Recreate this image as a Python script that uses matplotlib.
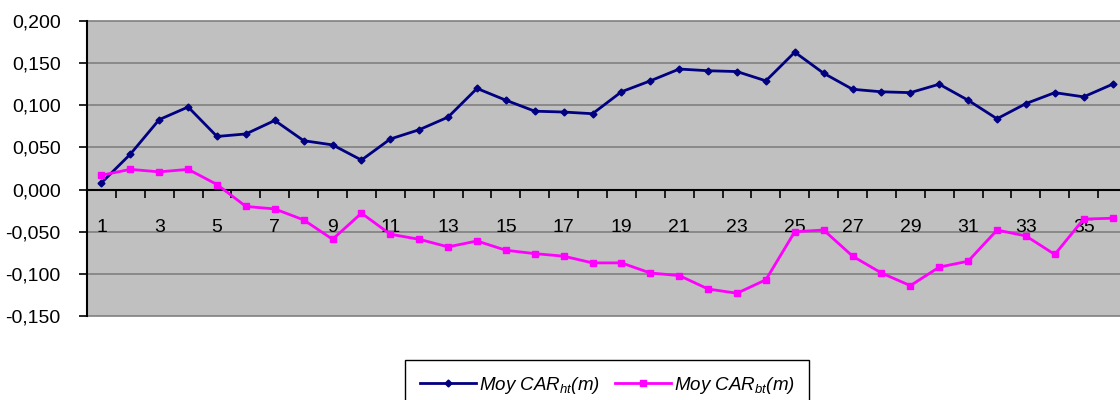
import numpy as np
import matplotlib
matplotlib.use("Agg")
import matplotlib.pyplot as plt
from matplotlib.ticker import FuncFormatter

plt.rcParams['font.family'] = ['Liberation Sans', 'DejaVu Sans']
plt.rcParams['mathtext.fontset'] = 'custom'
plt.rcParams['mathtext.rm'] = 'Liberation Sans'
plt.rcParams['mathtext.it'] = 'Liberation Sans:italic'

# months 1..36
months = list(range(1, 37))

car_ht = [0.008, 0.042, 0.083, 0.098, 0.063, 0.066, 0.082, 0.058, 0.053, 0.035,
          0.060, 0.071, 0.086, 0.120, 0.106, 0.093, 0.092, 0.090, 0.116, 0.129,
          0.143, 0.141, 0.140, 0.129, 0.163, 0.138, 0.119, 0.116, 0.115, 0.125,
          0.106, 0.084, 0.102, 0.115, 0.110, 0.125]

car_bt = [0.017, 0.024, 0.021, 0.024, 0.006, -0.020, -0.023, -0.036, -0.059, -0.028,
          -0.053, -0.059, -0.068, -0.061, -0.072, -0.076, -0.079, -0.087, -0.087, -0.099,
          -0.102, -0.118, -0.123, -0.107, -0.050, -0.048, -0.079, -0.099, -0.114, -0.092,
          -0.085, -0.048, -0.055, -0.077, -0.035, -0.034]

label_ht = r'Moy CAR$_{\mathit{ht}}$(m)'
label_bt = r'Moy CAR$_{\mathit{bt}}$(m)'

fig = plt.figure(figsize=(11.2, 4.0), dpi=100)
ax = fig.add_axes([87 / 1120, 84 / 400, 1040 / 1120, 295 / 400])
ax.set_facecolor('#C0C0C0')

ax.set_xlim(0.5, 36.5)
ax.set_ylim(-0.15, 0.2)

# grid lines (incl. plot area border)
for yv in np.arange(-0.15, 0.2001, 0.05):
    if abs(yv) > 1e-9:
        ax.axhline(yv, color='#808080', lw=1.2, zorder=1, clip_on=False)

ax.plot(months, car_ht, color='#000080', lw=2, marker='D', ms=3.5, label=label_ht, zorder=3)
ax.plot(months, car_bt, color='#FF00FF', lw=2, marker='s', ms=5, label=label_bt, zorder=3)

for s in ['top', 'right']:
    ax.spines[s].set_visible(False)
ax.spines['left'].set_linewidth(1.5)
ax.spines['bottom'].set_position(('data', 0))
ax.spines['bottom'].set_linewidth(1.5)

ax.set_yticks(np.arange(-0.15, 0.2001, 0.05))
ax.yaxis.set_major_formatter(FuncFormatter(lambda v, p: f"{v:.3f}".replace('.', ',').replace('-0,000', '0,000')))
ax.tick_params(axis='y', direction='out', length=6, width=1.2, labelsize=14, pad=13)

ax.set_xticks(np.arange(0.5, 37, 1.0))
ax.set_xticklabels([])
ax.set_xticks(months[::2], minor=True)
ax.set_xticklabels([str(m) for m in months[::2]], minor=True)
ax.tick_params(axis='x', which='major', direction='out', length=6, width=1.2)
ax.tick_params(axis='x', which='minor', length=0, labelsize=14, pad=21)

leg = fig.legend(loc='upper center', bbox_to_anchor=(607 / 1120, 40 / 400), ncol=2,
                 prop={'family': 'Liberation Sans', 'style': 'italic', 'size': 13.5},
                 frameon=True, fancybox=False, edgecolor='black', framealpha=1,
                 handlelength=3.0, handletextpad=0.15, columnspacing=0.8,
                 borderpad=0.8, borderaxespad=0)
leg.get_frame().set_linewidth(1.0)

fig.savefig('out.png', dpi=100)
